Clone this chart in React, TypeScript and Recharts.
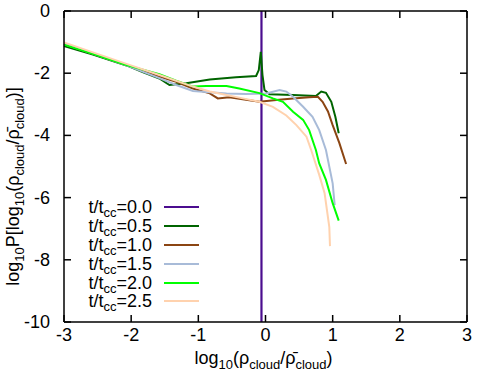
import React from "react";
import { LineChart, Line, XAxis, YAxis } from "recharts";

type Pt = { x: number; y: number };

const X_TICKS = [-3, -2, -1, 0, 1, 2, 3];
const Y_TICKS = [-10, -8, -6, -4, -2, 0];

// log10 of the density PDF at each output time
const T00: Pt[] = [
  { x: -0.06, y: 0 },
  { x: -0.06, y: -10 },
];

const T05: Pt[] = [
  { x: -3.0, y: -1.13 }, { x: -2.57, y: -1.4 }, { x: -2.07, y: -1.75 },
  { x: -1.83, y: -1.96 }, { x: -1.58, y: -2.17 }, { x: -1.43, y: -2.38 },
  { x: -1.18, y: -2.32 }, { x: -0.83, y: -2.2 }, { x: -0.44, y: -2.13 },
  { x: -0.14, y: -2.09 }, { x: -0.1, y: -1.9 }, { x: -0.07, y: -1.31 },
  { x: -0.045, y: -2.06 }, { x: -0.015, y: -2.54 }, { x: 0.06, y: -2.68 },
  { x: 0.41, y: -2.7 }, { x: 0.75, y: -2.73 }, { x: 0.83, y: -2.59 },
  { x: 0.9, y: -2.63 }, { x: 0.98, y: -2.92 }, { x: 1.04, y: -3.4 },
  { x: 1.09, y: -3.93 },
];

const T10: Pt[] = [
  { x: -3.0, y: -1.06 }, { x: -2.57, y: -1.37 }, { x: -2.07, y: -1.74 },
  { x: -1.58, y: -2.11 }, { x: -1.33, y: -2.28 }, { x: -1.08, y: -2.49 },
  { x: -0.83, y: -2.65 }, { x: -0.71, y: -2.81 }, { x: -0.54, y: -2.77 },
  { x: -0.34, y: -2.84 }, { x: -0.09, y: -2.92 }, { x: 0.16, y: -2.86 },
  { x: 0.41, y: -2.81 }, { x: 0.65, y: -2.77 }, { x: 0.78, y: -2.76 },
  { x: 0.85, y: -2.92 }, { x: 0.93, y: -3.23 }, { x: 1.0, y: -3.67 },
  { x: 1.1, y: -4.25 }, { x: 1.2, y: -4.92 },
];

const T15: Pt[] = [
  { x: -3.0, y: -1.06 }, { x: -2.57, y: -1.37 }, { x: -2.07, y: -1.75 },
  { x: -1.58, y: -2.16 }, { x: -1.33, y: -2.38 }, { x: -1.08, y: -2.57 },
  { x: -0.83, y: -2.61 }, { x: -0.58, y: -2.65 }, { x: -0.29, y: -2.67 },
  { x: 0.01, y: -2.65 }, { x: 0.21, y: -2.54 }, { x: 0.31, y: -2.59 },
  { x: 0.41, y: -2.76 }, { x: 0.56, y: -3.08 }, { x: 0.7, y: -3.4 },
  { x: 0.8, y: -3.83 }, { x: 0.9, y: -4.47 }, { x: 1.0, y: -5.54 },
  { x: 1.03, y: -6.24 },
];

const T20: Pt[] = [
  { x: -3.0, y: -1.08 }, { x: -2.57, y: -1.38 }, { x: -2.07, y: -1.74 },
  { x: -1.58, y: -2.03 }, { x: -1.33, y: -2.24 }, { x: -1.08, y: -2.43 },
  { x: -0.88, y: -2.41 }, { x: -0.58, y: -2.41 }, { x: -0.39, y: -2.49 },
  { x: -0.09, y: -2.64 }, { x: 0.11, y: -2.81 }, { x: 0.26, y: -2.92 },
  { x: 0.41, y: -3.24 }, { x: 0.56, y: -3.5 }, { x: 0.65, y: -3.83 },
  { x: 0.75, y: -4.47 }, { x: 0.8, y: -4.9 }, { x: 0.9, y: -5.43 },
  { x: 1.0, y: -6.18 }, { x: 1.09, y: -6.74 },
];

const T25: Pt[] = [
  { x: -3.0, y: -1.01 }, { x: -2.57, y: -1.33 }, { x: -2.07, y: -1.7 },
  { x: -1.58, y: -2.06 }, { x: -1.08, y: -2.43 }, { x: -0.83, y: -2.59 },
  { x: -0.58, y: -2.7 }, { x: -0.34, y: -2.81 }, { x: -0.09, y: -2.92 },
  { x: 0.11, y: -3.08 }, { x: 0.31, y: -3.36 }, { x: 0.46, y: -3.67 },
  { x: 0.61, y: -4.04 }, { x: 0.68, y: -4.47 }, { x: 0.8, y: -5.27 },
  { x: 0.88, y: -5.86 }, { x: 0.95, y: -6.95 }, { x: 0.96, y: -7.56 },
];

const TIMES = ["0.0", "0.5", "1.0", "1.5", "2.0", "2.5"];
const COLORS = ["#4b0d8f", "#006400", "#8b4513", "#a8bbd8", "#00ff00", "#ffd2ae"];
const SERIES = [T00, T05, T10, T15, T20, T25];

// axis titles as [text, subscript?] runs
const X_TITLE: [string, boolean][] = [
  ["log", false], ["10", true], ["(ρ", false], ["cloud", true],
  ["/ρ̄", false], ["cloud", true], [")", false],
];
const Y_TITLE: [string, boolean][] = [
  ["log", false], ["10", true], ["P[log", false], ["10", true], ["(ρ", false],
  ["cloud", true], ["/ρ̄", false], ["cloud", true], [")]", false],
];

const FONT = '"Liberation Sans", Arial, Helvetica, sans-serif';
const FS = 18;
const SUB_FS = 13;
const SUB_DY = 5;
const TICK_LEN = 7;

const runs = (parts: [string, boolean][]) => {
  let prevSub = false;
  return parts.map(([s, sub], i) => {
    const dy = sub === prevSub ? 0 : sub ? SUB_DY : -SUB_DY;
    prevSub = sub;
    return (
      <tspan key={i} dy={dy} fontSize={sub ? SUB_FS : FS}>
        {s}
      </tspan>
    );
  });
};

// gnuplot-like ticks: short inward marks, labels outside
const BottomTick = (p: any) => (
  <g>
    <line x1={p.x} y1={p.y} x2={p.x} y2={p.y - TICK_LEN} stroke="#000" strokeWidth={1.5} />
    <text x={p.x} y={p.y + 19} textAnchor="middle" fontSize={FS} fontFamily={FONT} fill="#000">
      {p.payload.value}
    </text>
  </g>
);
const TopTick = (p: any) => (
  <line x1={p.x} y1={p.y} x2={p.x} y2={p.y + TICK_LEN} stroke="#000" strokeWidth={1.5} />
);
const LeftTick = (p: any) => (
  <g>
    <line x1={p.x} y1={p.y} x2={p.x + TICK_LEN} y2={p.y} stroke="#000" strokeWidth={1.5} />
    <text x={p.x - 14} y={p.y + 6} textAnchor="end" fontSize={FS} fontFamily={FONT} fill="#000">
      {p.payload.value}
    </text>
  </g>
);
const RightTick = (p: any) => (
  <line x1={p.x} y1={p.y} x2={p.x - TICK_LEN} y2={p.y} stroke="#000" strokeWidth={1.5} />
);

const XTitle = ({ viewBox }: any) => (
  <text
    x={viewBox.x + viewBox.width / 2 - 2}
    y={viewBox.y + 42}
    textAnchor="middle"
    fontSize={FS}
    fontFamily={FONT}
    fill="#000"
  >
    {runs(X_TITLE)}
  </text>
);

const YTitle = ({ viewBox }: any) => {
  const x = viewBox.x + viewBox.width - 45;
  const y = viewBox.y + viewBox.height / 2 + 20;
  return (
    <text
      x={x}
      y={y}
      transform={`rotate(-90, ${x}, ${y})`}
      textAnchor="middle"
      fontSize={FS}
      fontFamily={FONT}
      fill="#000"
    >
      {runs(Y_TITLE)}
    </text>
  );
};

const axisLine = { stroke: "#000", strokeWidth: 1.5 };

export default function App() {
  return (
    <div style={{ position: "absolute", left: 0, top: 0, width: 480, height: 375, background: "#fff" }}>
      <LineChart width={480} height={375} margin={{ top: 10, right: 12, bottom: 52, left: 63 }}>
        <XAxis
          xAxisId="b"
          type="number"
          dataKey="x"
          domain={[-3, 3]}
          ticks={X_TICKS}
          height={1}
          tickSize={0}
          tickMargin={0}
          axisLine={axisLine}
          tickLine={false}
          tick={BottomTick}
          label={{ content: XTitle }}
        />
        <XAxis
          xAxisId="t"
          orientation="top"
          type="number"
          dataKey="x"
          domain={[-3, 3]}
          ticks={X_TICKS}
          height={1}
          tickSize={0}
          tickMargin={0}
          axisLine={axisLine}
          tickLine={false}
          tick={TopTick}
        />
        <YAxis
          yAxisId="l"
          type="number"
          domain={[-10, 0]}
          ticks={Y_TICKS}
          width={1}
          tickSize={0}
          tickMargin={0}
          axisLine={axisLine}
          tickLine={false}
          tick={LeftTick}
          label={{ content: YTitle }}
        />
        <YAxis
          yAxisId="r"
          orientation="right"
          type="number"
          domain={[-10, 0]}
          ticks={Y_TICKS}
          width={1}
          tickSize={0}
          tickMargin={0}
          axisLine={axisLine}
          tickLine={false}
          tick={RightTick}
        />
        {SERIES.map((d, i) => (
          <Line
            key={TIMES[i]}
            xAxisId={i === 0 ? "t" : "b"}
            yAxisId="l"
            data={d}
            dataKey="y"
            type="linear"
            stroke={COLORS[i]}
            strokeWidth={i === 0 ? 2.2 : 2}
            dot={false}
            isAnimationActive={false}
          />
        ))}
        <Line xAxisId="t" yAxisId="r" data={T00} dataKey="y" stroke="none" dot={false} isAnimationActive={false} />
      </LineChart>
      <div style={{ position: "absolute", left: 80, top: 198, fontFamily: FONT, fontSize: FS, color: "#000" }}>
        {TIMES.map((t, i) => (
          <div key={t} style={{ display: "flex", alignItems: "center", height: 18.8 }}>
            <span style={{ width: 72, textAlign: "right", whiteSpace: "nowrap", lineHeight: "16px" }}>
              t/t<sub style={{ fontSize: SUB_FS, verticalAlign: -4, lineHeight: 0 }}>cc</sub>={t}
            </span>
            <span style={{ width: 35, height: 2, marginLeft: 12, background: COLORS[i] }} />
          </div>
        ))}
      </div>
    </div>
  );
}
